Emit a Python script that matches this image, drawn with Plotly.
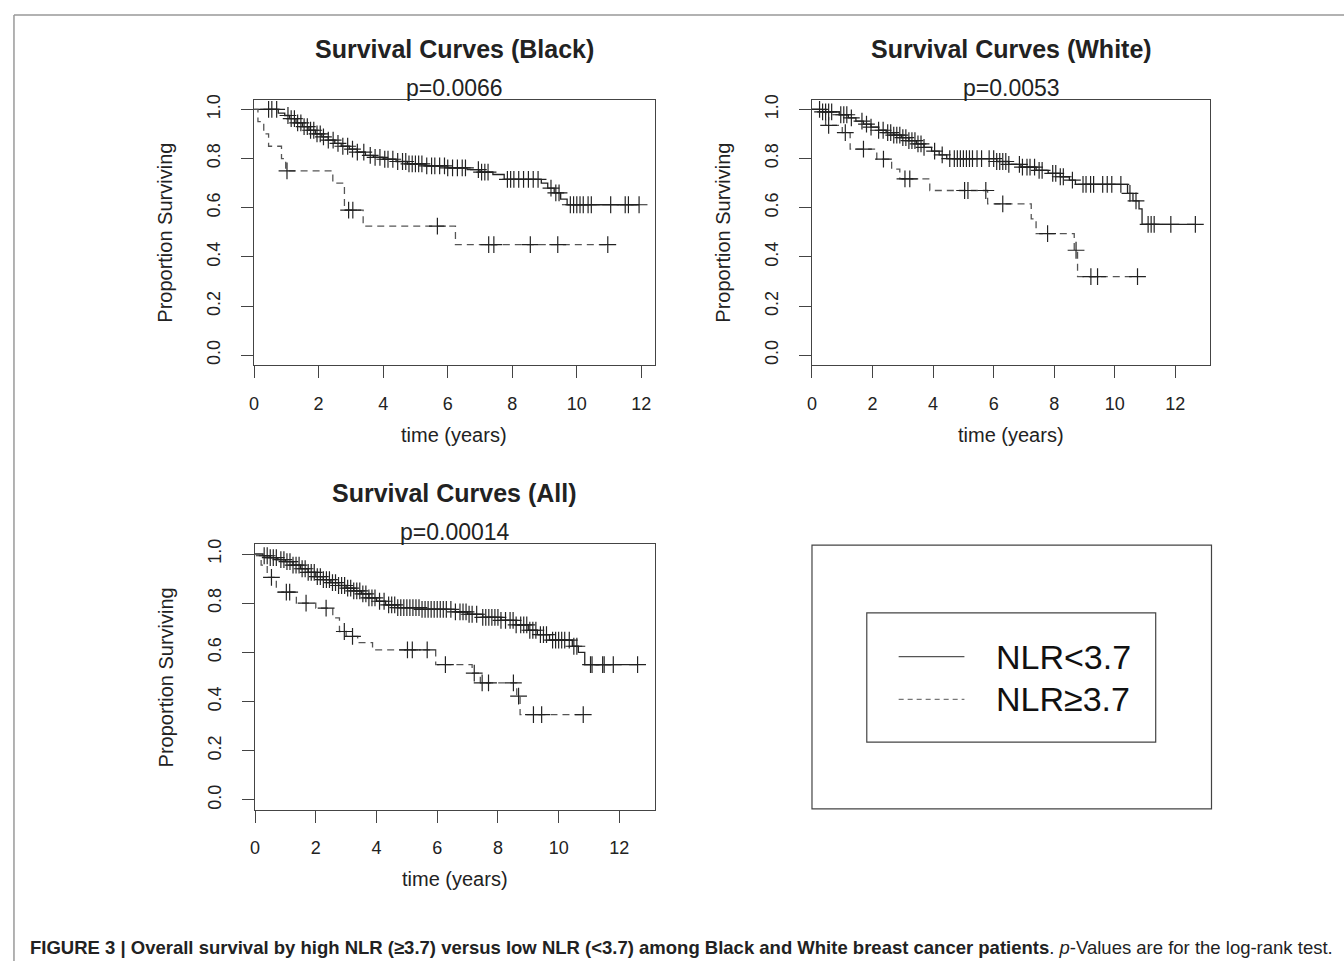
import numpy as np
import plotly.graph_objects as go

# ---------------- data ----------------
# Black patients
black_lo_t = [0, 0.75, 0.95, 1.1, 1.3, 1.5, 1.7, 1.9, 2.1, 2.3, 2.5, 2.7, 2.95, 3.2, 3.45, 3.7,
              4.0, 4.4, 4.75, 5.3, 6.0, 6.6, 7.0, 7.4, 7.75, 8.9, 9.1, 9.3, 9.5, 9.7, 11.93]
black_lo_s = [1.0, 0.985, 0.975, 0.962, 0.945, 0.93, 0.915, 0.9, 0.888, 0.875, 0.862, 0.85, 0.838, 0.826,
              0.813, 0.805, 0.797, 0.788, 0.778, 0.77, 0.762, 0.755, 0.745, 0.735, 0.715, 0.70, 0.68, 0.66,
              0.635, 0.612, 0.612]
black_lo_cens = [0.45, 0.55, 0.7, 1.05, 1.15, 1.25, 1.35, 1.45, 1.55, 1.65, 1.75, 1.85, 1.95, 2.05, 2.15,
                 2.3, 2.45, 2.6, 2.75, 2.9, 3.05, 3.2, 3.4, 3.6, 3.75, 3.9, 4.05, 4.15, 4.3, 4.45, 4.6, 4.7,
                 4.8, 4.9, 5.0, 5.1, 5.2, 5.35, 5.5, 5.6, 5.75, 5.9, 6.0, 6.15, 6.3, 6.45, 6.55, 6.95, 7.05,
                 7.15, 7.25, 7.85, 7.95, 8.05, 8.2, 8.35, 8.5, 8.65, 8.8, 9.2, 9.35, 9.45, 9.8, 9.9, 10.0,
                 10.1, 10.2, 10.35, 10.45, 11.05, 11.5, 11.6, 11.93]
black_hi_t = [0, 0.12, 0.3, 0.45, 0.85, 0.98, 2.44, 2.8, 3.38, 6.24, 10.96]
black_hi_s = [1.0, 0.95, 0.90, 0.85, 0.80, 0.75, 0.70, 0.59, 0.525, 0.45, 0.45]
black_hi_cens = [1.02, 2.93, 3.06, 5.68, 7.27, 7.43, 8.56, 9.41, 10.96]

# White patients
white_lo_t = [0, 0.35, 0.9, 1.2, 1.45, 1.7, 1.95, 2.2, 2.45, 2.7, 2.95, 3.2, 3.45, 3.7, 3.95, 4.2, 4.45,
              6.1, 6.5, 6.9, 7.4, 7.8, 8.2, 8.5, 8.7, 10.42, 10.6, 10.8, 10.9, 12.66]
white_lo_s = [1.0, 0.99, 0.978, 0.965, 0.952, 0.94, 0.928, 0.915, 0.905, 0.895, 0.885, 0.873, 0.86, 0.845,
              0.83, 0.815, 0.8, 0.788, 0.776, 0.765, 0.752, 0.74, 0.726, 0.712, 0.695, 0.658, 0.628, 0.595,
              0.532, 0.532]
white_lo_cens = [0.25, 0.35, 0.45, 0.55, 0.65, 0.95, 1.05, 1.15, 1.3, 1.65, 1.8, 1.95, 2.2, 2.35, 2.5, 2.6,
                 2.7, 2.8, 2.9, 3.0, 3.1, 3.2, 3.3, 3.4, 3.5, 3.6, 3.7, 4.05, 4.3, 4.55, 4.7, 4.8, 4.9, 5.0,
                 5.1, 5.2, 5.3, 5.45, 5.6, 5.85, 6.0, 6.1, 6.2, 6.3, 6.4, 6.5, 6.85, 6.95, 7.1, 7.2, 7.35,
                 7.5, 7.6, 7.95, 8.05, 8.2, 8.3, 8.6, 8.95, 9.05, 9.2, 9.3, 9.6, 9.75, 9.9, 10.2, 10.5,
                 10.7, 11.1, 11.2, 11.3, 11.85, 12.66]
white_hi_t = [0, 0.45, 1.0, 1.26, 2.14, 2.63, 2.9, 3.89, 5.8, 7.24, 7.4, 8.66, 8.77, 10.75]
white_hi_s = [1.0, 0.935, 0.905, 0.838, 0.798, 0.757, 0.717, 0.67, 0.616, 0.555, 0.495, 0.427, 0.32, 0.32]
white_hi_cens = [0.55, 1.1, 1.7, 2.36, 3.07, 3.23, 5.04, 5.15, 5.74, 6.3, 7.78, 8.72, 9.21, 9.43, 10.75]

# All patients
all_lo_t = [0, 0.26, 0.5, 0.75, 1.0, 1.25, 1.5, 1.75, 2.0, 2.25, 2.5, 2.75, 3.0, 3.25, 3.5, 3.75, 4.0,
            4.3, 4.7, 5.5, 6.6, 7.0, 7.5, 8.1, 8.6, 9.0, 9.3, 9.7, 10.45, 10.65, 10.86, 12.6]
all_lo_s = [1.0, 0.993, 0.985, 0.977, 0.969, 0.955, 0.94, 0.925, 0.908, 0.896, 0.884, 0.872, 0.861, 0.85,
            0.838, 0.822, 0.808, 0.793, 0.782, 0.775, 0.765, 0.755, 0.742, 0.73, 0.712, 0.69, 0.672, 0.65,
            0.625, 0.6, 0.55, 0.55]
all_lo_cens = [0.3, 0.4, 0.5, 0.6, 0.7, 0.85, 0.95, 1.05, 1.15, 1.25, 1.35, 1.45, 1.55, 1.65, 1.75, 1.85,
               1.95, 2.05, 2.15, 2.25, 2.35, 2.45, 2.55, 2.65, 2.75, 2.85, 2.95, 3.05, 3.15, 3.25, 3.35,
               3.45, 3.55, 3.65, 3.75, 3.85, 3.95, 4.1, 4.25, 4.4, 4.5, 4.6, 4.7, 4.8, 4.9, 5.0, 5.1, 5.2,
               5.3, 5.4, 5.5, 5.6, 5.7, 5.8, 5.9, 6.0, 6.1, 6.2, 6.3, 6.45, 6.6, 6.75, 6.85, 6.95, 7.05,
               7.15, 7.3, 7.5, 7.6, 7.7, 7.8, 7.9, 8.0, 8.1, 8.25, 8.4, 8.5, 8.6, 8.75, 8.85, 8.95, 9.05,
               9.15, 9.25, 9.4, 9.5, 9.6, 9.8, 9.9, 10.0, 10.1, 10.2, 10.35, 10.5, 10.6, 11.05, 11.1,
               11.45, 11.5, 11.8, 12.6]
all_hi_t = [0, 0.2, 0.4, 0.7, 1.36, 2.0, 2.56, 2.78, 3.0, 3.38, 3.87, 5.95, 7.15, 7.42, 8.62, 8.73, 10.81]
all_hi_s = [1.0, 0.955, 0.905, 0.845, 0.80, 0.78, 0.74, 0.685, 0.665, 0.64, 0.61, 0.55, 0.516, 0.476,
            0.422, 0.347, 0.347]
all_hi_cens = [0.54, 1.03, 1.14, 1.68, 2.34, 2.94, 3.21, 5.02, 5.18, 5.67, 6.27, 7.22, 7.48, 7.69, 8.51,
               8.68, 9.17, 9.44, 10.81]

titles = ["Survival Curves (Black)", "Survival Curves (White)", "Survival Curves (All)"]
pvals = ["p=0.0066", "p=0.0053", "p=0.00014"]
legend_labels = ["NLR&lt;3.7", "NLR≥3.7"]
x_ticks = [0, 2, 4, 6, 8, 10, 12]
y_ticks = [0.0, 0.2, 0.4, 0.6, 0.8, 1.0]
y_ticktext = ["0.0", "0.2", "0.4", "0.6", "0.8", "1.0"]
x_max = [12.41, 13.16, 13.16]

W, H = 1344, 961
FONT = "Liberation Sans, Arial, Helvetica, sans-serif"
LC = "#444444"


def px(x):
    return x / W


def py(y):
    return 1 - y / H


def step_at(times, surv, pts):
    t = np.asarray(times)
    s = np.asarray(surv)
    idx = np.searchsorted(t, np.asarray(pts), side="right") - 1
    return s[idx]


# panel boxes in pixels: (left, right, top, bottom)
boxes = [(250, 652, 95, 362), (810, 1210, 95, 362), (251, 652, 542, 809)]

curves = [
    (black_lo_t, black_lo_s, black_lo_cens, black_hi_t, black_hi_s, black_hi_cens),
    (white_lo_t, white_lo_s, white_lo_cens, white_hi_t, white_hi_s, white_hi_cens),
    (all_lo_t, all_lo_s, all_lo_cens, all_hi_t, all_hi_s, all_hi_cens),
]

fig = go.Figure()
annotations = []

for i, (box, cv) in enumerate(zip(boxes, curves)):
    xa = "x" if i == 0 else f"x{i+1}"
    ya = "y" if i == 0 else f"y{i+1}"
    lo_t, lo_s, lo_c, hi_t, hi_s, hi_c = cv
    fig.add_trace(go.Scatter(x=lo_t, y=lo_s, mode="lines", line=dict(color="#222222", width=1.3, shape="hv"),
                             xaxis=xa, yaxis=ya, showlegend=False, hoverinfo="skip"))
    fig.add_trace(go.Scatter(x=hi_t, y=hi_s, mode="lines",
                             line=dict(color="#555555", width=1.3, shape="hv", dash="7px,5px"),
                             xaxis=xa, yaxis=ya, showlegend=False, hoverinfo="skip"))
    fig.add_trace(go.Scatter(x=lo_c, y=step_at(lo_t, lo_s, lo_c), mode="markers",
                             marker=dict(symbol="cross-thin", size=12, line=dict(color="#222222", width=1.2)),
                             xaxis=xa, yaxis=ya, showlegend=False, hoverinfo="skip"))
    fig.add_trace(go.Scatter(x=hi_c, y=step_at(hi_t, hi_s, hi_c), mode="markers",
                             marker=dict(symbol="cross-thin", size=12, line=dict(color="#222222", width=1.2)),
                             xaxis=xa, yaxis=ya, showlegend=False, hoverinfo="skip"))

    l, r, t, b = box
    axkey = "xaxis" if i == 0 else f"xaxis{i+1}"
    aykey = "yaxis" if i == 0 else f"yaxis{i+1}"
    fig.update_layout(**{
        axkey: dict(domain=[px(l), px(r)], range=[0, x_max[i]], anchor=ya,
                    tickvals=x_ticks, ticks="outside", ticklen=12, tickwidth=1.2, tickcolor=LC,
                    showline=True, mirror=True, linecolor=LC, linewidth=1.2,
                    showgrid=False, zeroline=False, tickfont=dict(size=18, color="#222222"),
                    ticklabelstandoff=10),
        aykey: dict(domain=[py(b), py(t)], range=[-0.04, 1.04], anchor=xa,
                    tickvals=y_ticks, ticktext=y_ticktext, tickangle=-90,
                    ticks="outside", ticklen=12, tickwidth=1.2, tickcolor=LC,
                    showline=True, mirror=True, linecolor=LC, linewidth=1.2,
                    showgrid=False, zeroline=False, tickfont=dict(size=18, color="#222222"),
                    ticklabelstandoff=14),
    })
    cx = (l + r) / 2
    annotations += [
        dict(text=f"<b>{titles[i]}</b>", x=px(cx), y=py(t - 51), xref="paper", yref="paper",
             showarrow=False, xanchor="center", yanchor="middle", font=dict(size=25, color="#222222")),
        dict(text=pvals[i], x=px(cx), y=py(t - 12), xref="paper", yref="paper",
             showarrow=False, xanchor="center", yanchor="middle", font=dict(size=23, color="#222222")),
        dict(text="time (years)", x=px(cx), y=py(b + 70), xref="paper", yref="paper",
             showarrow=False, xanchor="center", yanchor="middle", font=dict(size=20, color="#222222")),
        dict(text="Proportion Surviving", x=px(l - 89), y=py((t + b) / 2), xref="paper", yref="paper",
             showarrow=False, xanchor="center", yanchor="middle", textangle=-90,
             font=dict(size=20, color="#222222")),
    ]

# legend panel (drawn)
shapes = [
    dict(type="rect", xref="paper", yref="paper", x0=px(810), x1=px(1211), y0=py(808), y1=py(543),
         line=dict(color=LC, width=1.2)),
    dict(type="rect", xref="paper", yref="paper", x0=px(865), x1=px(1155), y0=py(741), y1=py(611),
         line=dict(color=LC, width=1.2)),
    dict(type="line", xref="paper", yref="paper", x0=px(897), x1=px(963), y0=py(655), y1=py(655),
         line=dict(color="#555555", width=1.3)),
    dict(type="line", xref="paper", yref="paper", x0=px(897), x1=px(963), y0=py(698), y1=py(698),
         line=dict(color="#777777", width=1.3, dash="5px,4px")),
    # figure frame
    dict(type="line", xref="paper", yref="paper", x0=px(9), x1=px(1344), y0=py(10), y1=py(10),
         line=dict(color="#999999", width=1.5)),
    dict(type="line", xref="paper", yref="paper", x0=px(9), x1=px(9), y0=py(10), y1=py(961),
         line=dict(color="#999999", width=1.5)),
]
for lab, yy in zip(legend_labels, [655, 698]):
    annotations.append(dict(text=lab, x=px(993), y=py(yy), xref="paper", yref="paper", showarrow=False,
                            xanchor="left", yanchor="middle", font=dict(size=34, color="#111111")))

caption = ("<b>FIGURE 3 | Overall survival by high NLR (≥3.7) versus low NLR (&lt;3.7) among Black and White "
           "breast cancer patients</b>. <i>p</i>-Values are for the log-rank test.")
annotations.append(dict(text=caption, x=px(23), y=py(947), xref="paper", yref="paper", showarrow=False,
                        xanchor="left", yanchor="middle",
                        font=dict(size=18.5, color="#222222", family=FONT)))

fig.update_layout(width=W, height=H, autosize=False, margin=dict(l=0, r=0, t=0, b=0),
                  paper_bgcolor="white", plot_bgcolor="white", font=dict(family=FONT),
                  annotations=annotations, shapes=shapes, showlegend=False)

fig.write_html("out.html", config={"displayModeBar": False},
               post_script="document.body.style.margin='0';")
